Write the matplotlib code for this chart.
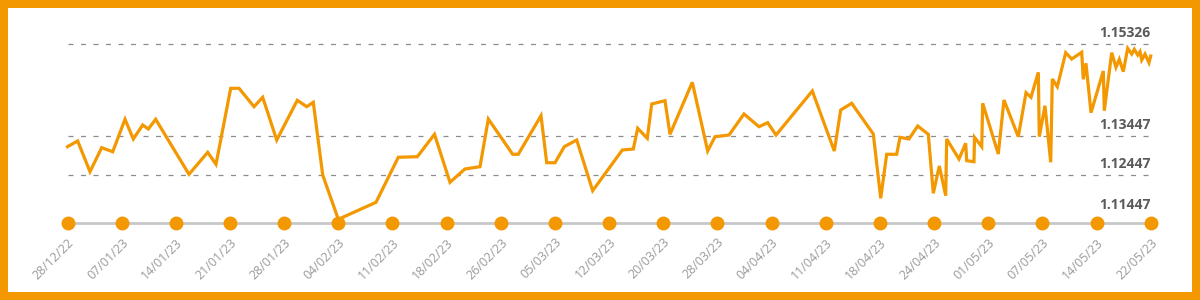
import matplotlib.pyplot as plt
from matplotlib.patches import Rectangle

plt.rcParams['font.family'] = ['Open Sans', 'DejaVu Sans']

ORANGE = '#F39800'

date_labels = ["28/12/22", "07/01/23", "14/01/23", "21/01/23", "28/01/23", "04/02/23",
               "11/02/23", "18/02/23", "26/02/23", "05/03/23", "12/03/23", "20/03/23",
               "28/03/23", "04/04/23", "11/04/23", "18/04/23", "24/04/23", "01/05/23",
               "07/05/23", "14/05/23", "22/05/23"]

# position along the axis, in units of tick spacing
pos = [0.0, 0.188, 0.415, 0.631, 0.835, 1.062, 1.215, 1.388, 1.492, 1.628,
       2.243, 2.589, 2.742, 3.013, 3.167, 3.444, 3.604, 3.863, 4.243, 4.417,
       4.538, 4.712, 5.000, 5.696, 6.108, 6.459, 6.776, 7.062, 7.339, 7.616,
       7.770, 8.220, 8.323, 8.743, 8.848, 9.001, 9.173, 9.402, 9.697, 10.244,
       10.447, 10.528, 10.705, 10.787, 11.032, 11.124, 11.536, 11.820, 11.955, 12.214,
       12.491, 12.768, 12.928, 13.082, 13.752, 14.158, 14.276, 14.479, 14.878, 15.015,
       15.125, 15.310, 15.371, 15.537, 15.698, 15.894, 15.986, 16.097, 16.215, 16.233,
       16.460, 16.584, 16.603, 16.737, 16.747, 16.880, 16.898, 17.186, 17.291, 17.555,
       17.698, 17.790, 17.925, 17.943, 18.048, 18.154, 18.183, 18.276, 18.431, 18.541,
       18.726, 18.755, 18.805, 18.898, 19.125, 19.143, 19.280, 19.359, 19.420, 19.494,
       19.575, 19.649, 19.697, 19.760, 19.802, 19.834, 19.895, 19.968, 20.0]

price = [1.13009, 1.13138, 1.12443, 1.12986, 1.12895, 1.13629, 1.13183, 1.13500, 1.13409, 1.13629,
         1.12384, 1.12882, 1.12610, 1.14330, 1.14330, 1.13914, 1.14127, 1.13160, 1.14059, 1.13914,
         1.14013, 1.12368, 1.11366, 1.11750, 1.12769, 1.12782, 1.13289, 1.12203, 1.12504, 1.12556,
         1.13635, 1.12837, 1.12837, 1.13710, 1.12646, 1.12646, 1.13009, 1.13160, 1.12013, 1.12934,
         1.12956, 1.13425, 1.13199, 1.13975, 1.14050, 1.13289, 1.14466, 1.12911, 1.13235, 1.13273,
         1.13749, 1.13461, 1.13552, 1.13273, 1.14269, 1.12911, 1.13839, 1.13991, 1.13296, 1.11841,
         1.12837, 1.12837, 1.13221, 1.13183, 1.13477, 1.13289, 1.11954, 1.12572, 1.11900, 1.13183,
         1.12730, 1.13086, 1.12692, 1.12669, 1.13221, 1.13009, 1.13991, 1.12843, 1.14065, 1.13235,
         1.14231, 1.14127, 1.14692, 1.13235, 1.13936, 1.12656, 1.14541, 1.14366, 1.15136, 1.14993,
         1.15145, 1.14534, 1.14896, 1.13778, 1.14722, 1.13823, 1.15136, 1.14805, 1.14987, 1.14706,
         1.15235, 1.15106, 1.15213, 1.15084, 1.15159, 1.14971, 1.15106, 1.14910, 1.15061]

grid_vals = [1.15326, 1.13244, 1.12361]
grid_labels = ["1.15326", "1.13447", "1.12447"]
low_label_val = 1.11447
low_label = "1.11447"
axis_floor = 1.11275

fig = plt.figure(figsize=(12, 3), dpi=100)
fig.patch.set_facecolor(ORANGE)
fig.patches.append(Rectangle((8 / 1200, 8 / 300), 1184 / 1200, 284 / 300,
                             transform=fig.transFigure, facecolor='white',
                             edgecolor='none', zorder=-1))

ax = fig.add_axes([67.5 / 1200, (300 - 223.3) / 300, 1083.2 / 1200, 179 / 300])
ax.set_zorder(1)
ax.set_facecolor('none')
ax.set_xlim(0, 20)
ax.set_ylim(axis_floor, 1.15326)

for v in grid_vals:
    ax.axhline(v, color='#8c8c8c', lw=0.9, dashes=(4, 6), zorder=1, clip_on=False)
for v, lab in zip(grid_vals + [low_label_val], grid_labels + [low_label]):
    ax.annotate(lab, xy=(20, v), xytext=(0, 3), textcoords='offset points',
                ha='right', va='bottom', fontsize=10, fontweight='bold',
                color='#5a5a5a', annotation_clip=False)

ax.axhline(axis_floor, color='#c8c8c8', lw=2, zorder=2, clip_on=False)
ticks = list(range(len(date_labels)))
ax.plot(ticks, [axis_floor] * len(ticks), 'o', color=ORANGE, ms=9,
        clip_on=False, zorder=3)

ax.plot(pos, price, color=ORANGE, lw=2.3, solid_joinstyle='miter',
        clip_on=False, zorder=4)

ax.set_xticks(ticks)
ax.set_xticklabels(date_labels, rotation=45, ha='right', rotation_mode='anchor',
                   fontsize=9, color='#9a9a9a')
ax.tick_params(axis='x', length=0, pad=9)
ax.set_yticks([])
for s in ax.spines.values():
    s.set_visible(False)

fig.savefig('out.png', dpi=100, facecolor=fig.get_facecolor())
